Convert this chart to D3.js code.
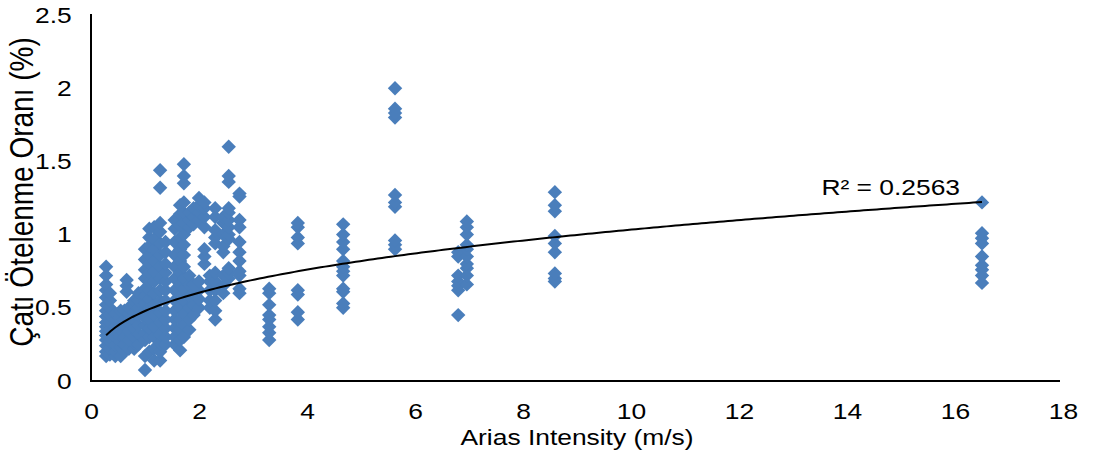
<!DOCTYPE html>
<html>
<head>
<meta charset="utf-8">
<script src="https://cdn.jsdelivr.net/npm/d3@7"></script>
<style>
  html, body { margin: 0; padding: 0; background: #fff; }
  body { width: 1101px; height: 459px; overflow: hidden; }
  text { font-family: "Liberation Sans", Arial, sans-serif; fill: #000; }
</style>
</head>
<body>
<script>
const width = 1101;
const height = 459;

// arias intensity of each record (m/s)
const ariasValues = [
  0.28, 0.35, 0.45, 0.55, 0.62, 0.66, 0.7, 0.8, 0.88, 1.0,
  1.08, 1.17, 1.28, 1.38, 1.55, 1.65, 1.72, 1.82, 1.9, 2.0,
  2.1, 2.2, 2.3, 2.45, 2.55, 2.75, 3.3, 3.83, 4.67, 5.63,
  6.8, 6.96, 8.59, 16.5
];

// roof drift ratios (%) measured for each record, same order
const driftValues = [
  [0.17, 0.2, 0.24, 0.28, 0.31, 0.34, 0.37, 0.4, 0.44, 0.48, 0.52, 0.57, 0.62, 0.66, 0.72, 0.78],
  [0.18, 0.22, 0.27, 0.3, 0.35, 0.4, 0.45, 0.5, 0.55, 0.6],
  [0.17, 0.2, 0.25, 0.3, 0.33, 0.37, 0.42, 0.46],
  [0.17, 0.23, 0.27, 0.31, 0.35, 0.4, 0.44, 0.48],
  [0.2, 0.25, 0.3, 0.36, 0.42, 0.48],
  [0.61, 0.65, 0.69],
  [0.22, 0.28, 0.34, 0.4, 0.46, 0.5],
  [0.22, 0.26, 0.3, 0.36, 0.42, 0.47, 0.52, 0.55],
  [0.25, 0.32, 0.38, 0.45, 0.5, 0.55, 0.6],
  [0.075, 0.17, 0.28, 0.33, 0.38, 0.43, 0.48, 0.53, 0.58, 0.63, 0.7, 0.76, 0.83, 0.9],
  [0.2, 0.3, 0.36, 0.42, 0.5, 0.56, 0.62, 0.68, 0.74, 0.8, 0.86, 0.92, 0.98, 1.04],
  [0.14, 0.22, 0.3, 0.37, 0.45, 0.52, 0.6, 0.68, 0.75, 0.82, 0.9, 0.97, 1.05],
  [0.14, 0.2, 0.26, 0.32, 0.4, 0.47, 0.55, 0.62, 0.7, 0.78, 0.86, 0.94, 1.02, 1.08, 1.32, 1.44],
  [0.25, 0.3, 0.36, 0.42, 0.48, 0.55, 0.62, 0.68, 0.74, 0.8, 0.88, 0.95],
  [0.25, 0.3, 0.36, 0.42, 0.48, 0.55, 0.62, 0.7, 0.78, 0.86, 0.95, 1.04, 1.1],
  [0.21, 0.28, 0.35, 0.42, 0.5, 0.58, 0.66, 0.74, 0.82, 0.9, 0.98, 1.06, 1.14, 1.2],
  [0.3, 0.38, 0.46, 0.55, 0.63, 0.7, 0.78, 0.86, 0.93, 1.0, 1.08, 1.15, 1.22, 1.35, 1.4, 1.48],
  [0.35, 0.42, 0.5, 0.58, 0.66, 0.72, 1.05, 1.1, 1.15],
  [0.45, 0.52, 0.6, 0.66, 1.07, 1.12, 1.18],
  [0.5, 0.56, 0.62, 0.68, 1.1, 1.15, 1.2, 1.25],
  [0.8, 0.85, 0.9, 1.05, 1.12, 1.18, 1.22],
  [0.5, 0.55, 0.62, 0.68, 0.72],
  [0.42, 0.48, 0.55, 0.62, 0.68, 0.74, 0.94, 0.98, 1.03, 1.12, 1.18],
  [0.6, 0.65, 0.72, 0.88, 0.92, 1.0, 1.08, 1.12],
  [0.7, 0.74, 0.77, 0.97, 1.0, 1.05, 1.1, 1.15, 1.18, 1.36, 1.4, 1.6],
  [0.6, 0.63, 0.72, 0.75, 0.82, 0.88, 0.95, 1.05, 1.1, 1.26, 1.28],
  [0.28, 0.33, 0.37, 0.42, 0.45, 0.52, 0.6, 0.63],
  [0.42, 0.47, 0.59, 0.62, 0.94, 0.98, 1.05, 1.08],
  [0.5, 0.53, 0.61, 0.63, 0.72, 0.75, 0.78, 0.82, 0.9, 0.95, 1.0, 1.07],
  [0.9, 0.93, 0.96, 1.19, 1.22, 1.27, 1.8, 1.83, 1.86, 2.0],
  [0.45, 0.62, 0.65, 0.68, 0.72, 0.85, 0.88],
  [0.66, 0.72, 0.77, 0.8, 0.85, 0.9, 0.93, 1.0, 1.05, 1.09],
  [0.68, 0.7, 0.735, 0.88, 0.94, 0.99, 1.16, 1.2, 1.29],
  [0.67, 0.72, 0.76, 0.79, 0.85, 0.94, 0.975, 1.01, 1.22]
];

// power trendline y = a * x^b
const trendCoef = [0.478, 0.335];
const r2Label = "R² = 0.2563";

const xTicks = [0, 2, 4, 6, 8, 10, 12, 14, 16, 18];
const yTicks = [0, 0.5, 1, 1.5, 2, 2.5];

const points = [];
ariasValues.forEach((a, i) => {
  driftValues[i].forEach(v => points.push({ x: a, y: v }));
});

const plotLeft = 91, plotRight = 1063, plotTop = 15, plotBottom = 381;
const stretch = 1.2; // text in the original is drawn a bit wide

const x = d3.scaleLinear().domain([0, 18]).range([plotLeft, plotRight]);
const y = d3.scaleLinear().domain([0, 2.5]).range([plotBottom, plotTop]);

const svg = d3.select("body").append("svg")
  .attr("width", width)
  .attr("height", height);

// markers
const diamond = d3.symbol().type(d3.symbolSquare).size(104);
svg.append("g")
  .selectAll("path")
  .data(points)
  .join("path")
  .attr("d", diamond)
  .attr("transform", d => `translate(${x(d.x)},${y(d.y)}) rotate(45)`)
  .attr("fill", "#4a7ebb");

// trendline
const [xMin, xMax] = d3.extent(points, d => d.x);
const trend = d3.range(0, 201).map(i => {
  const xv = xMin + (xMax - xMin) * i / 200;
  return [xv, trendCoef[0] * Math.pow(xv, trendCoef[1])];
});
svg.append("path")
  .datum(trend)
  .attr("d", d3.line().x(d => x(d[0])).y(d => y(d[1])))
  .attr("fill", "none")
  .attr("stroke", "#000")
  .attr("stroke-width", 2);

svg.append("text")
  .attr("transform", `translate(960,195) scale(${stretch},1)`)
  .attr("text-anchor", "end")
  .attr("font-size", 22)
  .text(r2Label);

// axes
const xAxis = d3.axisBottom(x).tickValues(xTicks).tickSize(0).tickPadding(22);
const gx = svg.append("g").attr("transform", `translate(0,${plotBottom})`).call(xAxis);
gx.select(".domain").attr("stroke", "#000").attr("stroke-width", 2)
  .attr("d", `M${plotLeft},0H${plotRight - 3}`);
gx.selectAll("text")
  .attr("font-size", 22)
  .attr("font-family", null)
  .attr("transform", `scale(${stretch},1)`);

const yAxis = d3.axisLeft(y).tickValues(yTicks).tickSize(0).tickPadding(16)
  .tickFormat(d3.format("~g"));
const gy = svg.append("g").attr("transform", `translate(${plotLeft},0)`).call(yAxis);
gy.select(".domain").attr("stroke", "#000").attr("stroke-width", 2)
  .attr("d", `M0,${plotTop - 1}V${plotBottom + 1}`);
gy.selectAll("text")
  .attr("font-size", 22)
  .attr("font-family", null)
  .attr("transform", `scale(${stretch},1)`);

svg.append("text")
  .attr("transform", `translate(${(plotLeft + plotRight) / 2},445) scale(${stretch},1)`)
  .attr("text-anchor", "middle")
  .attr("font-size", 22)
  .text("Arias Intensity (m/s)");

svg.append("text")
  .attr("transform", `translate(33,192) scale(${stretch},1) rotate(-90)`)
  .attr("text-anchor", "middle")
  .attr("font-size", 28)
  .text("Çatı Ötelenme Oranı (%)");
</script>
</body>
</html>
